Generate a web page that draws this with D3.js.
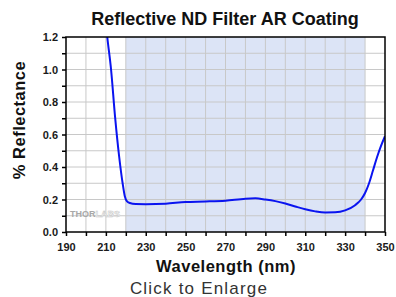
<!DOCTYPE html>
<html>
<head>
<meta charset="utf-8">
<script src="https://cdn.jsdelivr.net/npm/d3@7"></script>
<style>
  body { margin: 0; background: #fff; }
  text { font-family: "Liberation Sans", Arial, sans-serif; }
</style>
</head>
<body>
<div id="chart_area"></div>
<script>
// wavelength (nm) and reflectance (%)
var wavelength = [210.2, 210.7, 212.6, 214.6, 216.7, 218.4, 219.5, 220.5, 222, 225, 230, 240, 250, 260, 270, 280, 285, 290, 295, 300, 305, 310, 315, 320, 325, 330, 335, 338, 340, 342, 344, 346, 348, 350];
var reflectance = [1.26, 1.2, 1.0, 0.71, 0.46, 0.30, 0.22, 0.19, 0.178, 0.172, 0.171, 0.174, 0.185, 0.188, 0.193, 0.205, 0.207, 0.200, 0.19, 0.175, 0.157, 0.14, 0.127, 0.12, 0.121, 0.133, 0.165, 0.20, 0.24, 0.30, 0.38, 0.46, 0.53, 0.59];
var xTicks = [190, 210, 230, 250, 270, 290, 310, 330, 350];
var yTicks = [0.0, 0.2, 0.4, 0.6, 0.8, 1.0, 1.2];
var coatingBand = [220, 340];

var margin = { top: 37, right: 11, bottom: 65, left: 66 },
    width = 396 - margin.left - margin.right,
    height = 297 - margin.top - margin.bottom;

var svgRoot = d3.select("#chart_area")
    .append("svg")
    .attr("width", 396)
    .attr("height", 297);

var svg = svgRoot.append("g")
    .attr("transform", "translate(" + margin.left + "," + margin.top + ")");

var x = d3.scaleLinear().domain([190, 350]).range([0, width]);
var y = d3.scaleLinear().domain([0, 1.2]).range([height, 0]);

// shaded coating range
svg.append("rect")
    .attr("x", x(coatingBand[0]))
    .attr("y", 0)
    .attr("width", x(coatingBand[1]) - x(coatingBand[0]))
    .attr("height", height)
    .attr("fill", "#dce4f6");

// grid
svg.append("g")
    .selectAll("line")
    .data(d3.range(200, 350, 10))
    .enter()
    .append("line")
    .attr("x1", function (d) { return x(d); })
    .attr("x2", function (d) { return x(d); })
    .attr("y1", 0)
    .attr("y2", height)
    .attr("stroke", "#c8c8c8");

svg.append("g")
    .selectAll("line")
    .data(d3.range(1, 12).map(function (i) { return i / 10; }))
    .enter()
    .append("line")
    .attr("x1", 0)
    .attr("x2", width)
    .attr("y1", function (d) { return y(d); })
    .attr("y2", function (d) { return y(d); })
    .attr("stroke", "#c8c8c8");

// watermark
var wm = svg.append("text")
    .attr("x", 4)
    .attr("y", height - 15)
    .attr("font-size", 9)
    .attr("font-weight", "bold");
wm.append("tspan").attr("fill", "#a8a8a8").text("THOR");
wm.append("tspan").attr("fill", "#fff").attr("stroke", "#c4c4c4").attr("stroke-width", 0.5).text("LABS");

// curve
svg.append("clipPath")
    .attr("id", "plotclip")
    .append("rect")
    .attr("width", width)
    .attr("height", height);

var line = d3.line()
    .x(function (d) { return x(d[0]); })
    .y(function (d) { return y(d[1]); })
    .curve(d3.curveMonotoneX);

svg.append("path")
    .datum(d3.zip(wavelength, reflectance))
    .attr("clip-path", "url(#plotclip)")
    .attr("d", line)
    .attr("fill", "none")
    .attr("stroke", "#0a14f0")
    .attr("stroke-width", 2);

// frame
svg.append("rect")
    .attr("width", width)
    .attr("height", height)
    .attr("fill", "none")
    .attr("stroke", "#000")
    .attr("stroke-width", 1.5);

// axes
var xAxis = svg.append("g")
    .attr("transform", "translate(0," + height + ")")
    .call(d3.axisBottom(x).tickValues(d3.range(190, 351, 10)).tickSize(4)
        .tickFormat(function (d) { return xTicks.indexOf(d) >= 0 ? d : ""; }));
var yAxis = svg.append("g")
    .call(d3.axisLeft(y).tickValues(d3.range(0, 13).map(function (i) { return i / 10; })).tickSize(4)
        .tickFormat(function (d) {
            return yTicks.some(function (t) { return Math.abs(t - d) < 1e-9; }) ? d3.format(".1f")(d) : "";
        }));

[xAxis, yAxis].forEach(function (a) {
    a.select(".domain").remove();
    a.selectAll(".tick line").attr("stroke", "#000").attr("stroke-width", 1.5);
    a.selectAll(".tick text")
        .attr("fill", "#1a1a1a")
        .style("font-family", "'Liberation Sans', Arial, sans-serif")
        .style("font-size", "11px")
        .style("font-weight", "bold");
});
xAxis.selectAll(".tick text").attr("dy", "1.05em");
yAxis.selectAll(".tick text").attr("x", -8);

// titles
svgRoot.append("text")
    .attr("x", 225)
    .attr("y", 25)
    .attr("text-anchor", "middle")
    .attr("font-size", 18)
    .attr("font-weight", "bold")
    .attr("fill", "#111")
    .text("Reflective ND Filter AR Coating");

svgRoot.append("text")
    .attr("x", 226)
    .attr("y", 272)
    .attr("text-anchor", "middle")
    .attr("font-size", 16.5)
    .attr("font-weight", "bold")
    .attr("letter-spacing", 0.5)
    .attr("fill", "#111")
    .text("Wavelength (nm)");

svgRoot.append("text")
    .attr("transform", "translate(25,120)rotate(-90)")
    .attr("text-anchor", "middle")
    .attr("font-size", 16.5)
    .attr("font-weight", "bold")
    .attr("letter-spacing", 0.5)
    .attr("fill", "#111")
    .text("% Reflectance");

svgRoot.append("text")
    .attr("x", 199)
    .attr("y", 294)
    .attr("text-anchor", "middle")
    .attr("font-size", 17)
    .attr("letter-spacing", 1.2)
    .attr("fill", "#333")
    .text("Click to Enlarge");
</script>
</body>
</html>
